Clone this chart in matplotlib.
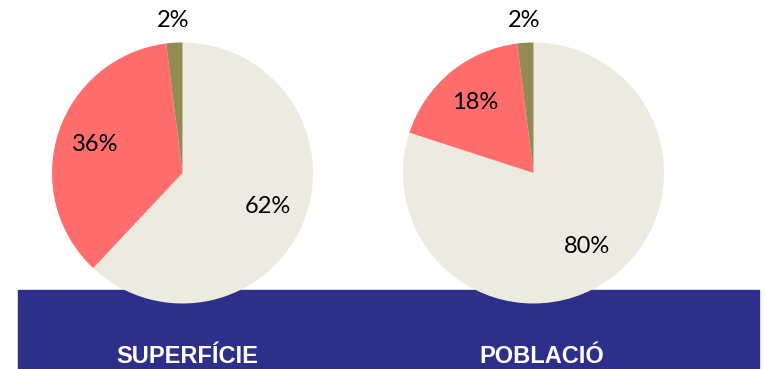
import matplotlib.pyplot as plt
from matplotlib.patches import Rectangle
import numpy as np

# share of each category (beige, red, olive)
superficie = [62, 36, 2]
poblacio = [80, 18, 2]
titles = ['SUPERFÍCIE', 'POBLACIÓ']
colors = ['#EDEBE0', '#FF6D6D', '#948A54']

W, H = 765, 369
fig = plt.figure(figsize=(W / 100, H / 100), dpi=100)
ax = fig.add_axes([0, 0, 1, 1])
ax.set_xlim(0, W)
ax.set_ylim(0, H)
ax.set_aspect('equal')
ax.axis('off')

# dark blue strip under the pies
ax.add_patch(Rectangle((18, 0), 741, 79, color='#2E2F8A', zorder=1))


def draw_pie(values, cx, title, title_x):
    radius = 130.5
    center = (cx, 196)
    wedges, _, autotexts = ax.pie(
        values, colors=colors, startangle=90, counterclock=False,
        center=center, radius=radius, autopct='%d%%', pctdistance=0.7,
        wedgeprops=dict(linewidth=0, zorder=2),
        textprops=dict(fontsize=17, family='Lato', color='black'),
        frame=True)
    # the small slice gets its label outside the pie
    w = wedges[-1]
    mid = np.deg2rad((w.theta1 + w.theta2) / 2)
    autotexts[-1].set_position((cx + 1.17 * radius * np.cos(mid),
                                center[1] + 1.17 * radius * np.sin(mid)))
    for t in autotexts:
        t.set_zorder(3)
    ax.text(title_x, 12.5, title, ha='center', va='center', color='white',
            fontsize=17, fontweight='bold', family='Liberation Sans', zorder=3)


draw_pie(superficie, 182.5, titles[0], 187)
draw_pie(poblacio, 533.5, titles[1], 542)

ax.set_xlim(0, W)
ax.set_ylim(0, H)
ax.axis('off')

fig.savefig('out.png', dpi=100)
